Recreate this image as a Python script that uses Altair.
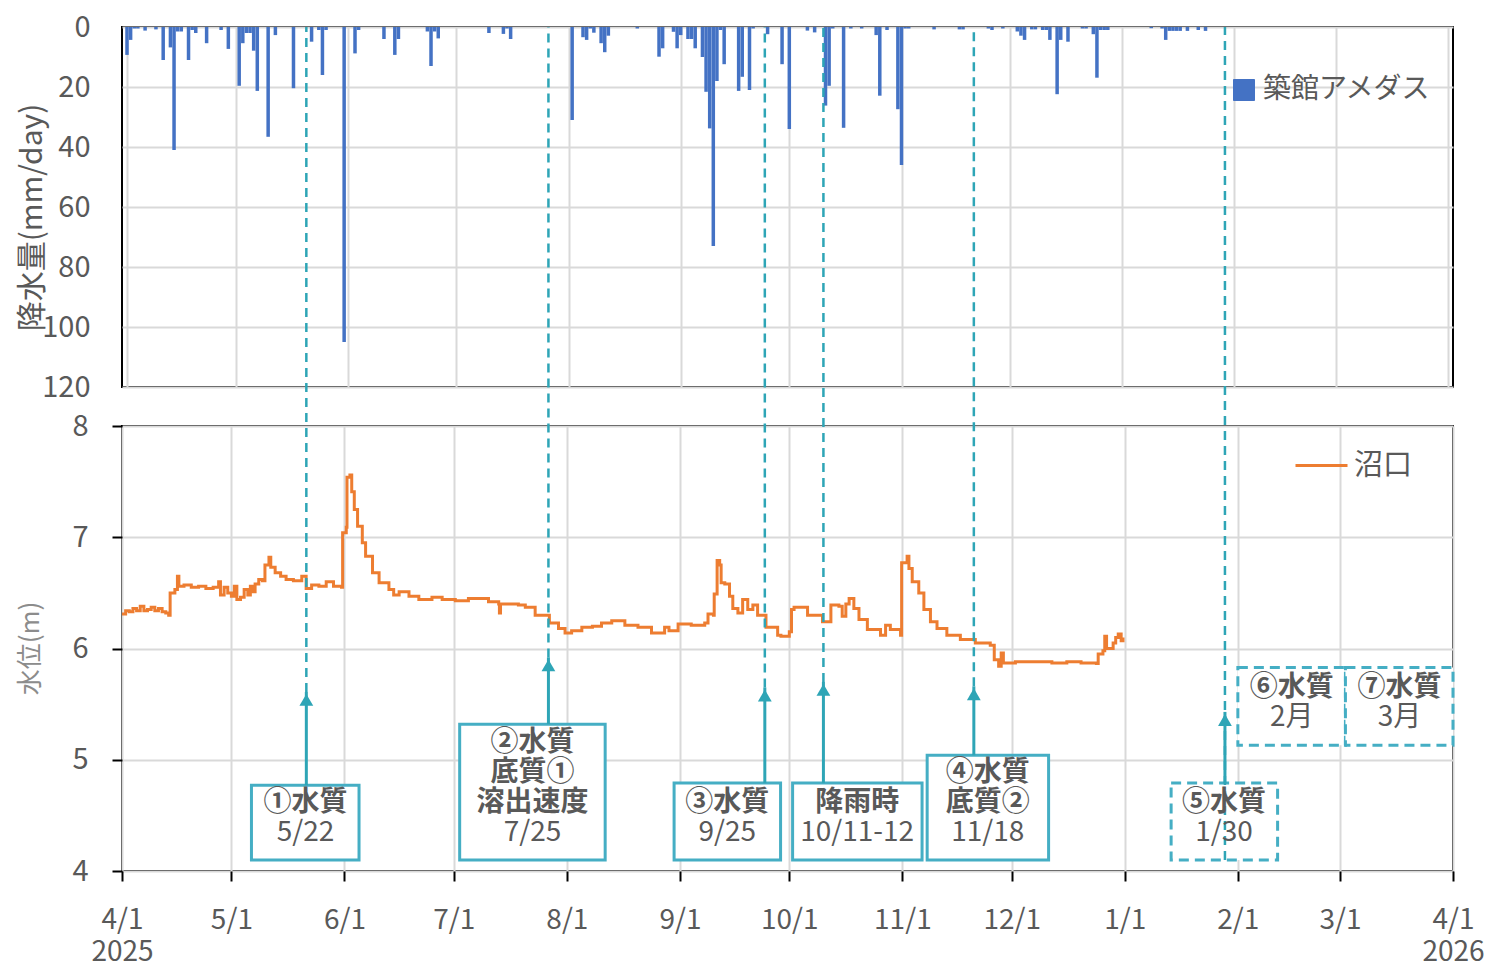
import altair as alt
import pandas as pd
from datetime import datetime, timedelta

FONT = "Noto Sans CJK JP"
TXT = "#595959"
TEAL = "#2EA5B6"
BOXC = "#45AEC4"
GRID = "#d9d9d9"

BASE = datetime(2025, 4, 1)


def d2s(day):
    return (BASE + timedelta(days=day)).strftime("%Y-%m-%dT%H:%M:%S")


# ---------------- daily precipitation (築館アメダス) ----------------
rain_date = [
    "2025-04-01", "2025-04-02", "2025-04-03", "2025-04-04", "2025-04-06", "2025-04-09",
    "2025-04-11", "2025-04-13", "2025-04-14", "2025-04-15", "2025-04-16", "2025-04-18",
    "2025-04-19", "2025-04-20", "2025-04-23", "2025-04-27", "2025-04-29", "2025-05-02",
    "2025-05-03", "2025-05-04", "2025-05-05", "2025-05-06", "2025-05-07", "2025-05-10",
    "2025-05-12", "2025-05-17", "2025-05-22", "2025-05-24", "2025-05-25", "2025-05-26",
    "2025-05-31", "2025-06-03", "2025-06-04", "2025-06-11", "2025-06-14", "2025-06-15",
    "2025-06-23", "2025-06-24", "2025-06-25", "2025-06-26", "2025-07-10", "2025-07-14",
    "2025-07-15", "2025-07-16", "2025-08-02", "2025-08-05", "2025-08-06", "2025-08-07",
    "2025-08-08", "2025-08-10", "2025-08-11", "2025-08-12", "2025-08-20", "2025-08-26",
    "2025-08-27", "2025-08-30", "2025-08-31", "2025-09-01", "2025-09-03", "2025-09-04",
    "2025-09-05", "2025-09-07", "2025-09-08", "2025-09-09", "2025-09-10", "2025-09-11",
    "2025-09-12", "2025-09-13", "2025-09-17", "2025-09-18", "2025-09-20", "2025-09-21",
    "2025-09-25", "2025-09-29", "2025-10-01", "2025-10-06", "2025-10-08", "2025-10-11",
    "2025-10-12", "2025-10-13", "2025-10-16", "2025-10-18", "2025-10-21", "2025-10-25",
    "2025-10-26", "2025-10-28", "2025-10-31", "2025-11-01", "2025-11-02", "2025-11-03",
    "2025-11-10", "2025-11-17", "2025-11-18", "2025-11-25", "2025-11-26", "2025-11-29",
    "2025-12-03", "2025-12-04", "2025-12-05", "2025-12-07", "2025-12-08", "2025-12-10",
    "2025-12-11", "2025-12-12", "2025-12-14", "2025-12-15", "2025-12-17", "2025-12-21",
    "2025-12-22", "2025-12-24", "2025-12-25", "2025-12-26", "2025-12-27", "2025-12-28",
    "2026-01-09", "2026-01-12", "2026-01-13", "2026-01-14", "2026-01-15", "2026-01-16",
    "2026-01-17", "2026-01-19", "2026-01-22", "2026-01-24",
]
rain_mm = [
    9.3, 4.3, 0.5, 0.5, 1.2, 0.8,
    11.0, 6.8, 41.0, 1.5, 1.5, 11.0,
    1.0, 2.0, 5.4, 1.0, 7.3, 19.6,
    5.4, 2.0, 2.0, 7.9, 21.3, 36.6,
    2.7, 20.4, 4.9, 1.0, 16.0, 1.0,
    105.0, 8.8, 1.0, 4.0, 9.3, 4.0,
    1.5, 13.0, 1.5, 3.8, 2.0, 2.3,
    0.5, 4.0, 31.0, 3.4, 4.3, 0.5,
    1.9, 5.4, 8.4, 2.9, 0.5, 9.9,
    7.1, 1.6, 7.1, 2.7, 4.0, 4.0,
    7.1, 10.0, 21.6, 33.8, 73.0, 18.0,
    1.0, 12.4, 21.3, 16.6, 21.0, 0.5,
    2.4, 12.4, 34.0, 1.2, 1.8, 26.2,
    19.6, 0.5, 33.6, 0.5, 0.5, 2.7,
    22.9, 1.0, 27.4, 46.0, 0.5, 0.5,
    0.8, 0.8, 0.8, 0.5, 1.0, 0.5,
    1.5, 2.9, 4.3, 0.8, 0.8, 1.0,
    1.0, 4.3, 22.4, 4.3, 4.9, 0.5,
    0.5, 2.4, 16.9, 1.0, 1.0, 1.0,
    0.4, 0.5, 4.3, 1.3, 1.3, 1.3,
    1.3, 1.3, 1.0, 1.3,
]
rain_source = "築館アメダス"

# ---------------- water level (沼口), days since 2025-04-01 ----------------
wl_day = [
    0, 1, 2, 3, 4, 5, 6, 7, 8, 9, 10, 11, 12, 12.8, 13.2, 14.5, 15.2, 15.6, 17, 19,
    21, 23, 25, 26.5, 27, 28, 29, 30, 30.8, 31.5, 32.5, 33.5, 34.5, 35.2, 36, 36.5,
    37.5, 38.5, 39.2, 40.3, 40.8, 42, 43.5, 45, 47, 48.5, 49.3, 50.5, 52, 54, 56, 58,
    60.2, 60.5, 61.5, 61.7, 62.5, 63, 63.7, 64.6, 65.9, 66.8, 68.7, 70.5, 73.2, 74.5,
    76, 78.7, 81.4, 85, 87.8, 91.4, 95, 99.6, 100.5, 103.3, 103.5, 103.8, 105.1, 108.7,
    110.6, 113.3, 117.2, 119.7, 121.5, 123.3, 126.1, 129, 131.5, 134.3, 137.9, 141.5,
    145.2, 148.8, 150, 152.5, 156.1, 159.8, 160.7, 162.2, 162.4, 163.2, 163.9, 164.3,
    165.3, 166.6, 167.5, 168.9, 170.2, 171.6, 173, 174.3, 176.6, 179.8, 180.7, 183,
    183.6, 184.3, 188, 192.1, 194.4, 196.6, 197.5, 198.5, 199.4, 200.7, 202.1, 204.4,
    208, 209.4, 210.7, 213.5, 213.8, 215.3, 215.8, 216.7, 218.5, 219.9, 221.7, 223.5,
    226.2, 229.9, 234, 238.1, 239.2, 240.4, 241.1, 241.7, 245, 250, 255, 259.1, 263,
    267.2, 267.7, 269, 269.5, 270, 271.8, 272.5, 273.2, 274, 274.5,
]
wl_level = [
    6.31, 6.34, 6.33, 6.36, 6.34, 6.38, 6.34, 6.35, 6.37, 6.34, 6.36, 6.33, 6.32, 6.30, 6.50, 6.53, 6.65, 6.56, 6.57, 6.55,
    6.56, 6.54, 6.55, 6.60, 6.48, 6.55, 6.50, 6.47, 6.56, 6.44, 6.46, 6.53, 6.48, 6.56, 6.51, 6.58,
    6.62, 6.61, 6.75, 6.82, 6.73, 6.68, 6.65, 6.62, 6.61, 6.61, 6.65, 6.54, 6.57, 6.56, 6.60, 6.56,
    6.55, 7.04, 7.09, 7.54, 7.56, 7.41, 7.25, 7.10, 6.95, 6.83, 6.68, 6.59, 6.53, 6.48,
    6.51, 6.47, 6.44, 6.46, 6.44, 6.43, 6.45, 6.45, 6.42, 6.40, 6.32, 6.40, 6.40, 6.39,
    6.37, 6.30, 6.23, 6.18, 6.14, 6.16, 6.19, 6.20, 6.23, 6.25, 6.21, 6.19,
    6.14, 6.19, 6.16, 6.22, 6.21, 6.23, 6.31, 6.30, 6.49, 6.79, 6.75, 6.59,
    6.58, 6.47, 6.36, 6.32, 6.44, 6.35, 6.39, 6.30, 6.19, 6.12, 6.11, 6.15,
    6.35, 6.37, 6.30, 6.24, 6.39, 6.38, 6.29, 6.40, 6.45, 6.36, 6.26, 6.17,
    6.12, 6.21, 6.17, 6.12, 6.77, 6.83, 6.72, 6.60, 6.50, 6.35, 6.24, 6.18,
    6.12, 6.08, 6.05, 6.03, 5.90, 5.84, 5.96, 5.87, 5.88, 5.88, 5.87, 5.88, 5.87,
    5.865, 5.95, 5.98, 6.11, 6.00, 6.05, 6.10, 6.13, 6.07, 6.10,
]
wl_series = "沼口"

# ---------------- sampling events ----------------
event_day = [50.55, 116.94, 176.28, 192.35, 233.6, 302.46]
event_tip = [5.61, 5.92, 5.65, 5.70, 5.66, 5.43]
event_dash_end = [5.61, 5.92, 5.65, 5.70, 5.66, 4.10]
event_box_top = [4.77, 5.32, 4.79, 4.79, 5.04, 4.79]

# annotation boxes (day range, level range, dashed?)
box_x1 = [35.5, 92.6, 151.4, 183.9, 220.8, 287.7, 306.0, 335.5]
box_x2 = [65.0, 132.5, 180.6, 219.4, 254.1, 316.9, 335.5, 365.0]
box_y1 = [4.10, 4.10, 4.10, 4.10, 4.10, 4.10, 5.13, 5.13]
box_y2 = [4.77, 5.32, 4.79, 4.79, 5.04, 4.79, 5.83, 5.83]
box_dashed = [False, False, False, False, False, True, True, True]

label_day = [
    50.3, 50.3,
    112.6, 112.6, 112.6, 112.6,
    166.0, 166.0,
    201.6, 201.6,
    237.4, 237.4, 237.4,
    302.2, 302.2,
    320.8, 320.8,
    350.3, 350.3,
]
label_level = [
    4.61, 4.34,
    5.15, 4.88, 4.61, 4.34,
    4.61, 4.34,
    4.61, 4.34,
    4.88, 4.61, 4.34,
    4.61, 4.34,
    5.645, 5.375,
    5.645, 5.375,
]
label_text = [
    "①水質", "5/22",
    "②水質", "底質①", "溶出速度", "7/25",
    "③水質", "9/25",
    "降雨時", "10/11-12",
    "④水質", "底質②", "11/18",
    "⑤水質", "1/30",
    "⑥水質", "2月",
    "⑦水質", "3月",
]
label_bold = [
    True, False,
    True, True, True, False,
    True, False,
    True, False,
    True, True, False,
    True, False,
    True, False,
    True, False,
]

# ---------------- tables ----------------
rain_df = pd.DataFrame({
    "date": [s + "T00:00:00" for s in rain_date],
    "mm": rain_mm,
    "src": rain_source,
})
wl_df = pd.DataFrame({
    "date": [d2s(d) for d in wl_day],
    "level": wl_level,
    "series": wl_series,
})
ev_df = pd.DataFrame({
    "date": [d2s(d) for d in event_day],
    "tip": event_tip,
    "dash_end": event_dash_end,
    "box_top": event_box_top,
})
box_df = pd.DataFrame({
    "x1": [d2s(d) for d in box_x1],
    "x2": [d2s(d) for d in box_x2],
    "y1": box_y1,
    "y2": box_y2,
    "dashed": box_dashed,
})
lab_df = pd.DataFrame({
    "date": [d2s(d) for d in label_day],
    "level": label_level,
    "text": label_text,
    "bold": label_bold,
})

W = 1331
H_TOP = 360
H_BOT = 445
GAP = 39

month_ticks = [alt.DateTime(year=2025 + (3 + i) // 12, month=(3 + i) % 12 + 1, date=1) for i in range(13)]
x_scale = alt.Scale(domain=[alt.DateTime(year=2025, month=4, date=1),
                            alt.DateTime(year=2026, month=4, date=1)], nice=False)

x_axis_top = alt.Axis(values=month_ticks, grid=True, gridColor=GRID, gridWidth=2,
                      labels=False, ticks=False, domain=False, title=None)

x_axis_bot = alt.Axis(
    values=month_ticks, grid=True, gridColor=GRID, gridWidth=2, domain=False,
    ticks=True, tickSize=10, tickColor="black", tickWidth=2,
    labelExpr=("month(datum.value)==3 ? [timeFormat(datum.value,'%-m/%-d'), "
               "timeFormat(datum.value,'%Y')] : timeFormat(datum.value,'%-m/%-d')"),
    labelFont=FONT, labelFontSize=28, labelColor=TXT, labelPadding=25,
    labelLineHeight=32, labelOverlap=False, labelFlush=False, labelBound=False,
    title=None,
)

y_axis_top = alt.Axis(
    values=[0, 20, 40, 60, 80, 100, 120], grid=True, gridColor=GRID, gridWidth=2,
    ticks=False, domain=False, labelFont=FONT, labelFontSize=29, labelColor=TXT,
    labelPadding=32, labelOverlap=False, labelFlush=False,
    title="降水量(mm/day)", titleFont=FONT, titleFontSize=30, titleColor=TXT,
    titleFontWeight="normal", titleAngle=270, titleAlign="center", titleBaseline="middle",
    titleX=-90, titleY=190,
)

y_axis_bot = alt.Axis(
    values=[4, 5, 6, 7, 8], grid=True, gridColor=GRID, gridWidth=2,
    ticks=True, tickSize=10, tickColor="black", tickWidth=2, domain=False,
    labelFont=FONT, labelFontSize=29, labelColor=TXT, labelPadding=24,
    labelOverlap=False, labelFlush=False,
    title="水位(m)", titleFont=FONT, titleFontSize=26, titleColor="#8c8c8c",
    titleFontWeight="normal", titleAngle=270, titleAlign="center", titleBaseline="middle",
    titleX=-92, titleY=222,
)

y_scale_bot = alt.Scale(domain=[4, 8], nice=False, zero=False)

# ---------------- top panel: precipitation ----------------
top = alt.Chart(rain_df).mark_bar(size=3.5).encode(
    x=alt.X("date:T", scale=x_scale, axis=x_axis_top),
    y=alt.Y("mm:Q", scale=alt.Scale(domain=[0, 120], reverse=True, nice=False), axis=y_axis_top),
    y2=alt.datum(0),
    color=alt.Color("src:N", scale=alt.Scale(domain=[rain_source], range=["#4472C4"]),
                    legend=alt.Legend(orient="none", legendX=1108, legendY=49, title=None,
                                      symbolType="square", symbolSize=441,
                                      symbolFillColor="#0070C0", symbolStrokeColor="#4472C4",
                                      symbolStrokeWidth=1,
                                      labelFont=FONT, labelFontSize=28, labelColor=TXT,
                                      labelOffset=5, labelLimit=0)),
).properties(width=W, height=H_TOP)

# ---------------- bottom panel: water level + annotations ----------------
def X(field):
    return alt.X(field, type="temporal", scale=x_scale, axis=x_axis_bot)


def Y(field):
    return alt.Y(field, type="quantitative", scale=y_scale_bot, axis=y_axis_bot)


base_box = alt.Chart(box_df)
boxes_solid = base_box.transform_filter("!datum.dashed").mark_rect(
    fill="white", stroke=BOXC, strokeWidth=3
).encode(x=X("x1"), x2="x2", y=Y("y1"), y2="y2")
boxes_dash = base_box.transform_filter("datum.dashed").mark_rect(
    fill="white", stroke=BOXC, strokeWidth=3, strokeDash=[10, 6]
).encode(x=X("x1"), x2="x2", y=Y("y1"), y2="y2")

line = alt.Chart(wl_df).mark_line(strokeWidth=3, interpolate="step-after").encode(
    x=X("date"), y=Y("level"),
    color=alt.Color("series:N", scale=alt.Scale(domain=[wl_series], range=["#ED7D31"]),
                    legend=alt.Legend(orient="none", legendX=1172, legendY=12, title=None,
                                      symbolType="stroke", symbolSize=2704, symbolStrokeWidth=3,
                                      labelFont=FONT, labelFontSize=29, labelColor=TXT,
                                      labelOffset=5, labelLimit=0)),
)

ev = alt.Chart(ev_df)
dashes = ev.mark_rule(color=TEAL, strokeWidth=2.5, strokeDash=[9, 6]).encode(
    x=X("date"), y=Y("dash_end"), y2=alt.value(-(H_TOP + GAP))
)
shafts = ev.mark_rule(color=TEAL, strokeWidth=3).encode(
    x=X("date"), y=Y("box_top"), y2="tip"
)
heads = ev.mark_point(shape="triangle-up", filled=True, size=190, color=TEAL,
                      opacity=1, yOffset=8).encode(x=X("date"), y=Y("tip"))

labels_bold = alt.Chart(lab_df).transform_filter("datum.bold").mark_text(
    font=FONT, fontSize=28, fontWeight="bold", color=TXT
).encode(x=X("date"), y=Y("level"), text="text:N")
labels_norm = alt.Chart(lab_df).transform_filter("!datum.bold").mark_text(
    font=FONT, fontSize=28, fontWeight="normal", color=TXT
).encode(x=X("date"), y=Y("level"), text="text:N")

bottom = alt.layer(
    boxes_solid, boxes_dash, line, dashes, shafts, heads, labels_bold, labels_norm
).properties(width=W, height=H_BOT)

chart = alt.vconcat(top, bottom, spacing=GAP, bounds="flush").resolve_scale(
    color="independent"
).properties(
    padding={"left": 8, "top": 4, "right": 0, "bottom": 0}
).configure(font=FONT).configure_view(stroke="black", strokeWidth=2)

chart.save("out.html", embed_options={"renderer": "svg", "actions": False})
